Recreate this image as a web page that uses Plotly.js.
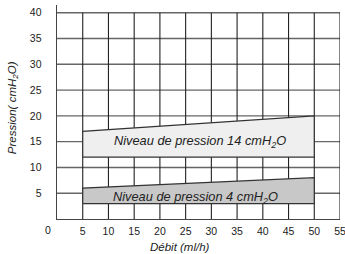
<!DOCTYPE html>
<html><head><meta charset="utf-8">
<script src="https://cdn.plot.ly/plotly-3.0.1.min.js"></script>
<style>body{margin:0;padding:0;background:#fff}#c{width:345px;height:254px}</style>
</head><body><div id="c"></div>
<script>
const flow = [5, 50];
const highTop = [17, 20];
const highBottom = [12, 12];
const lowTop = [6, 8];
const lowBottom = [3, 3];
const xTicks = [5, 10, 15, 20, 25, 30, 35, 40, 45, 50, 55];
const yTicks = [5, 10, 15, 20, 25, 30, 35, 40];
const highLabel = 'Niveau de pression 14 cmH<sub>2</sub>O';
const lowLabel = 'Niveau de pression 4 cmH<sub>2</sub>O';

function band(top, bottom, fill) {
  return {
    type: 'scatter', mode: 'lines',
    x: [flow[0], flow[1], flow[1], flow[0], flow[0]],
    y: [bottom[0], bottom[1], top[1], top[0], bottom[0]],
    fill: 'toself', fillcolor: fill,
    line: {color: '#333', width: 1.2}, hoverinfo: 'skip', showlegend: false
  };
}
const shapes = [];
yTicks.forEach(v => shapes.push({type:'line', layer:'below', x0:0, x1:55, y0:v, y1:v, line:{color:'#666', width:1.4}}));
xTicks.forEach(v => shapes.push({type:'line', layer:'below', x0:v, x1:v, y0:0, y1:40, line:{color:'#222', width:1.1}}));

const font = {family: 'Liberation Sans, Arial, sans-serif', size: 10.5, color: '#222'};
const labFont = {family: font.family, size: 12.8, color: '#222'};
Plotly.newPlot('c', [band(highTop, highBottom, '#efefef'), band(lowTop, lowBottom, '#c8c8c8')], {
  width: 345, height: 254,
  margin: {l: 57, r: 5, t: 5, b: 35},
  paper_bgcolor: '#fff', plot_bgcolor: '#fff',
  font: font,
  xaxis: {range: [0, 55], tickvals: xTicks, showgrid: false, zeroline: false,
    showline: true, linecolor: '#444', linewidth: 1.4, ticklabeloverflow: 'allow',
    ticks: 'outside', ticklen: 2, tickcolor: 'rgba(0,0,0,0)', tickfont: font, fixedrange: true},
  yaxis: {range: [0, 41.5], tickvals: yTicks, showgrid: false, zeroline: false,
    showline: true, linecolor: '#444', linewidth: 1.4,
    ticks: 'outside', ticklen: 12, tickcolor: 'rgba(0,0,0,0)', tickfont: font, fixedrange: true},
  shapes: shapes,
  annotations: [
    {x: 27.8, y: 15.1, text: '<i>' + highLabel + '</i>', showarrow: false, font: labFont},
    {x: 27.0, y: 4.2, text: '<i>' + lowLabel + '</i>', showarrow: false, font: labFont},
    {x: 0, y: 0, xref: 'x', yref: 'y', text: '0', showarrow: false, xanchor: 'center', yanchor: 'top', xshift: -9, yshift: -3, font: font},
    {x: 24, y: 0, xref: 'x', yref: 'y', text: '<i>Débit (ml/h)</i>', showarrow: false, yanchor: 'top', yshift: -20, font: {family: font.family, size: 11.5, color: '#222'}},
    {x: 0, y: 21.5, xref: 'x', yref: 'y', text: '<i>Pression( cmH<sub>2</sub>O)</i>', showarrow: false, textangle: -90, xanchor: 'center', xshift: -44, font: {family: font.family, size: 11.5, color: '#222'}}
  ]
}, {displayModeBar: false, staticPlot: true});
</script></body></html>
